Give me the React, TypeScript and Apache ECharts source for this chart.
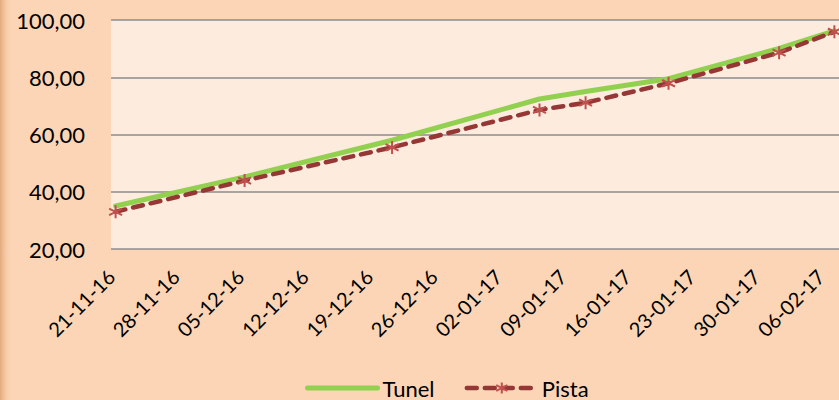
import React, { useEffect, useRef } from "react";
import * as echarts from "echarts";

const startDate = "2016-11-21";
const tickLabels = [
  "21-11-16", "28-11-16", "05-12-16", "12-12-16", "19-12-16", "26-12-16",
  "02-01-17", "09-01-17", "16-01-17", "23-01-17", "30-01-17", "06-02-17",
];
const pointDates = [
  "2016-11-21", "2016-12-05", "2016-12-21", "2017-01-06",
  "2017-01-11", "2017-01-20", "2017-02-01", "2017-02-07",
];
const tunelValues = [35.0, 45.2, 58.0, 72.4, 75.0, 79.5, 90.1, 96.2];
const pistaValues = [33.0, 43.9, 55.5, 68.6, 71.1, 77.9, 88.6, 95.9];
const yTicks = [20, 40, 60, 80, 100];

const DAY = 86400000;
const dayIndex = (d: string) =>
  Math.round((Date.parse(d) - Date.parse(startDate)) / DAY);

const starPath = "path://M5,0 L5,10 M0.7,2.5 L9.3,7.5 M0.7,7.5 L9.3,2.5";

export default function App() {
  const ref = useRef<HTMLDivElement>(null);
  useEffect(() => {
    if (!ref.current) return;
    const chart = echarts.init(ref.current, null, { renderer: "svg" });
    const font = "Lato";
    chart.setOption({
      animation: false,
      backgroundColor: "#FBD5B5",
      textStyle: { fontFamily: font },
      graphic: [
        {
          type: "rect",
          left: 0,
          top: 0,
          shape: { width: 12, height: 400 },
          style: {
            fill: new echarts.graphic.LinearGradient(0, 0, 1, 0, [
              { offset: 0, color: "#E3A87A" },
              { offset: 1, color: "rgba(251,213,181,0)" },
            ]),
          },
          silent: true,
        },
      ],
      grid: {
        left: 111,
        right: 0,
        top: 20,
        bottom: 151,
        show: true,
        backgroundColor: "#FDEBDD",
        borderWidth: 0,
      },
      legend: {
        left: 300,
        top: 372,
        itemWidth: 70,
        itemHeight: 14,
        itemGap: 30,
        textStyle: { fontFamily: font, fontSize: 22, color: "#000" },
        data: [
          {
            name: "Tunel",
            itemStyle: { opacity: 0 },
            lineStyle: { width: 5, color: "#92D050", cap: "round" },
          },
          {
            name: "Pista",
            lineStyle: { width: 4.5, color: "#953735", type: [10, 8], cap: "round" },
          },
        ],
      },
      xAxis: {
        type: "value",
        min: 0,
        max: 79,
        interval: 7,
        axisLine: { show: false },
        axisTick: { show: false },
        splitLine: { show: false },
        axisLabel: {
          rotate: 45,
          margin: 24,
          fontFamily: font,
          fontSize: 20,
          color: "#000",
          showMaxLabel: false,
          formatter: (v: number) => tickLabels[Math.round(v / 7)] ?? "",
        },
      },
      yAxis: {
        type: "value",
        min: yTicks[0],
        max: yTicks[yTicks.length - 1],
        interval: 20,
        axisLine: { show: false },
        axisTick: { show: false },
        splitLine: { lineStyle: { color: "#8C8C8C", width: 1.5 } },
        axisLabel: {
          margin: 26,
          fontFamily: font,
          fontSize: 22,
          color: "#000",
          formatter: (v: number) => v.toFixed(2).replace(".", ","),
        },
      },
      series: [
        {
          name: "Tunel",
          type: "line",
          data: pointDates.map((d, i) => [dayIndex(d) + 0.5, tunelValues[i]]),
          symbol: "none",
          lineStyle: { color: "#92D050", width: 5, cap: "round" },
          itemStyle: { color: "#92D050" },
          z: 2,
        },
        {
          name: "Pista",
          type: "line",
          data: pointDates.map((d, i) => [dayIndex(d) + 0.5, pistaValues[i]]),
          symbol: starPath,
          symbolSize: 13,
          lineStyle: { color: "#953735", width: 4.5, type: [10, 8], cap: "round" },
          itemStyle: { color: "#C0504D", borderColor: "#C0504D", borderWidth: 2 },
          z: 3,
        },
      ],
    });
    return () => chart.dispose();
  }, []);
  return <div ref={ref} style={{ width: 839, height: 400, position: "absolute", left: 0, top: 0 }} />;
}
